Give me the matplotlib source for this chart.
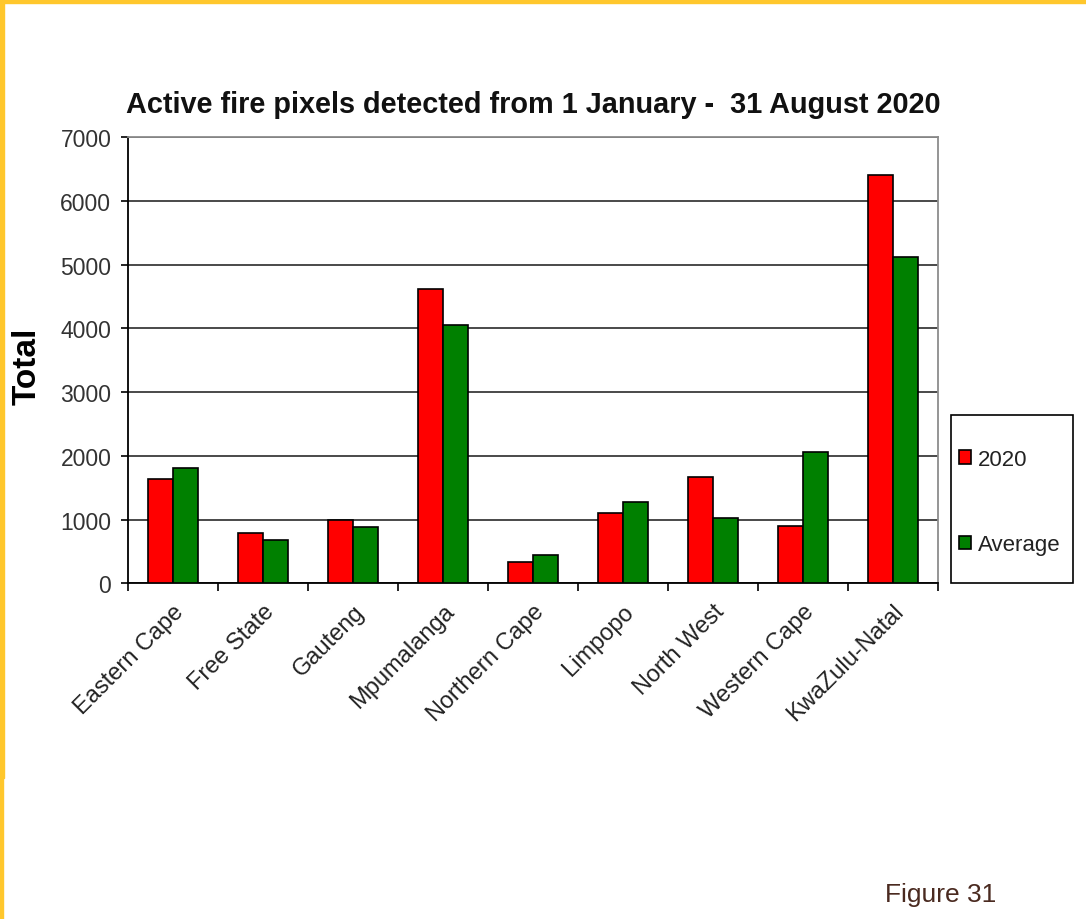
import numpy as np
import matplotlib
matplotlib.use("Agg")
import matplotlib.pyplot as plt
from matplotlib.patches import Rectangle

plt.rcParams['font.family'] = ['Liberation Sans', 'DejaVu Sans']

provinces = ['Eastern Cape', 'Free State', 'Gauteng', 'Mpumalanga', 'Northern Cape',
             'Limpopo', 'North West', 'Western Cape', 'KwaZulu-Natal']
fires_2020 = [1640, 785, 985, 4610, 340, 1100, 1665, 900, 6400]
fires_avg = [1810, 680, 880, 4045, 450, 1270, 1020, 2065, 5120]
yticks = [0, 1000, 2000, 3000, 4000, 5000, 6000, 7000]

W, H = 1086, 920
fig = plt.figure(figsize=(W / 100, H / 100), dpi=100)
ax = fig.add_axes([128 / W, 1 - 584.3 / H, 810 / W, 446.3 / H])

x = np.arange(len(provinces))
w = 0.28
ax.bar(x - w / 2, fires_2020, w, color='#ff0000', edgecolor='black', linewidth=1.2,
       label='2020', zorder=3)
ax.bar(x + w / 2, fires_avg, w, color='#008000', edgecolor='black', linewidth=1.2,
       label='Average', zorder=3)

ax.set_xlim(-0.5, len(provinces) - 0.5)
ax.set_ylim(0, 7000)
ax.set_yticks(yticks)
ax.set_yticklabels([str(v) for v in yticks], fontsize=16.5, color='#333333')
ax.yaxis.grid(True, color='#3a3a3a', linewidth=1.3, zorder=0)
ax.set_axisbelow(True)

# category labels sit between the tick marks
ax.set_xticks(np.arange(len(provinces) + 1) - 0.5)
ax.set_xticklabels([])
ax.set_xticks(x, minor=True)
ax.set_xticklabels(provinces, minor=True, rotation=45, ha='right', rotation_mode='anchor',
                   fontsize=17, color='#222222')
ax.tick_params(axis='x', which='minor', length=0, pad=12)
ax.tick_params(axis='x', which='major', length=6, width=1.2, color='black')
ax.tick_params(axis='y', length=5, width=1.2, color='black', pad=7)

for s in ['left', 'bottom']:
    ax.spines[s].set_color('black')
    ax.spines[s].set_linewidth(1.3)
for s in ['top', 'right']:
    ax.spines[s].set_color('#8c8c8c')
    ax.spines[s].set_linewidth(1.3)

fig.text(27 / W, 1 - 366 / H, 'Total', fontsize=24, fontweight='bold',
         rotation=90, ha='center', va='center')
fig.text(533 / W, 1 - 105 / H, 'Active fire pixels detected from 1 January -  31 August 2020',
         fontsize=20.8, fontweight='bold', ha='center', va='center', color='#111111')

# legend entries, box drawn separately to match the tall Excel legend
leg = fig.legend(loc='center left', bbox_to_anchor=(959 / W, 1 - 503 / H),
                 fontsize=16, frameon=False, labelspacing=2.9, handlelength=0.55,
                 handleheight=0.55, handletextpad=0.3, borderpad=0, borderaxespad=0)
for t in leg.get_texts():
    t.set_color('#222222')
fig.patches.append(Rectangle((951 / W, 1 - 584 / H), 122 / W, 168 / H,
                             transform=fig.transFigure, fill=False,
                             edgecolor='black', linewidth=1.2))

fig.text(941 / W, 1 - 895 / H, 'Figure 31', fontsize=19, color='#4a2a20',
         ha='center', va='center')

# yellow page border on top and left
border = '#ffc72c'
fig.patches.append(Rectangle((0, 1 - 4 / H), 1, 4 / H, transform=fig.transFigure,
                             color=border, zorder=10))
fig.patches.append(Rectangle((0, 1 - 779 / H), 4 / W, 779 / H, transform=fig.transFigure,
                             color=border, zorder=10))
fig.patches.append(Rectangle((0, 0), 3 / W, 1 - 779 / H, transform=fig.transFigure,
                             color=border, zorder=10))

fig.savefig('out.png', dpi=100)
